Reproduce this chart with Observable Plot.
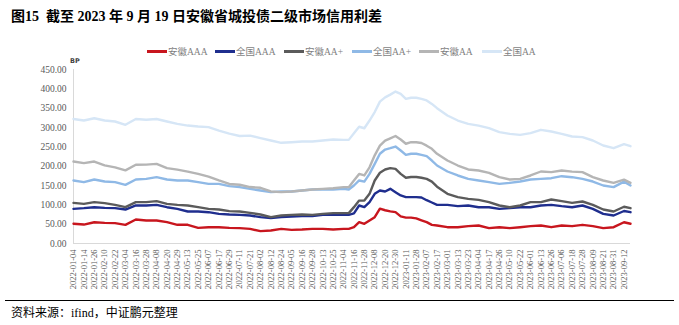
<!DOCTYPE html>
<html><head><meta charset="utf-8">
<script src="https://cdn.jsdelivr.net/npm/d3@7"></script>
<script src="https://cdn.jsdelivr.net/npm/@observablehq/plot@0.6"></script>
<style>
body{margin:0;width:679px;height:325px;position:relative;background:#fff;overflow:hidden;font-family:"Liberation Serif","Noto Sans CJK SC",serif;}
#chart{position:absolute;left:0;top:0;}
#title{position:absolute;left:11px;top:5px;font-size:14px;font-weight:bold;color:#000;white-space:nowrap;font-family:"Liberation Serif","Noto Sans CJK SC",serif;}
.item{position:absolute;top:44px;height:14px;display:flex;align-items:center;font-size:9.5px;color:#7f7f7f;white-space:nowrap;}
.sw{width:20px;height:3px;margin-right:1px;}
#bp{position:absolute;left:70px;top:57px;font:bold 6.5px "DejaVu Sans",sans-serif;color:#404040;}
#rule{position:absolute;left:5px;top:300px;width:669px;height:0;border-top:1.5px solid #000;}
#src{position:absolute;left:11px;top:303px;font-size:12px;color:#000;white-space:nowrap;}
</style></head><body>
<div id="chart"></div>
<div id="title">图15&nbsp; 截至 2023 年 9 月 19 日安徽省城投债二级市场信用利差</div>
<div id="legend"></div>
<div id="bp">BP</div>
<div id="rule"></div>
<div id="src">资料来源：ifind，中证鹏元整理</div>
<script>
const tickLabels = ["2022-01-04","2022-01-14","2022-01-26","2022-02-10","2022-02-22","2022-03-04","2022-03-16","2022-03-28","2022-04-08","2022-04-20","2022-04-29","2022-05-13","2022-05-25","2022-06-07","2022-06-17","2022-06-29","2022-07-11","2022-07-21","2022-08-02","2022-08-12","2022-08-24","2022-09-05","2022-09-16","2022-09-28","2022-10-13","2022-10-25","2022-11-04","2022-11-16","2022-11-28","2022-12-08","2022-12-20","2022-12-30","2023-01-11","2023-01-28","2023-02-07","2023-02-17","2023-03-01","2023-03-13","2023-03-23","2023-04-04","2023-04-17","2023-04-26","2023-05-10","2023-05-22","2023-06-01","2023-06-13","2023-06-26","2023-07-06","2023-07-18","2023-07-28","2023-08-09","2023-08-21","2023-08-31","2023-09-12"];
const tickDays = [0,8,16,24,32,40,48,56,64,72,80,88,96,104,112,120,128,136,144,152,160,168,176,184,192,200,208,216,224,232,240,248,256,264,272,280,288,296,304,312,320,328,336,344,352,360,368,376,384,392,400,408,416,424];
const dayIndex = [0,8,16,24,32,40,48,56,64,72,80,88,96,104,112,120,128,136,144,152,160,168,176,184,192,200,208,212,216,220,224,228,232,236,240,244,248,252,256,260,264,268,272,276,280,288,296,304,312,320,328,336,344,352,360,368,376,384,392,400,408,416,424,429];

const seriesNames = ["安徽AAA","全国AAA","安徽AA+","全国AA+","安徽AA","全国AA"];
const seriesColors = ["#C8161E","#1F2E8E","#5B5B5B","#8FB9E6","#B5B5B5","#D6E6F6"];

const ahAAA = [51,49,55,53.4,52.6,48.3,62,59.5,59.5,55.2,48.3,48.3,40.5,42.2,42.2,40.5,39.7,37.9,31.9,33.6,37.9,35.3,36.2,37.9,37.9,36.2,37.9,
 37.9,
 42.2,55.2,50.9,59.5,68.1,90,86,83,81,70,67,67,65,60,55.2,48.3,46.5,
 42.2,42.2,44.8,46.5,39.7,42.2,39.7,42.2,44.8,46.5,42.2,46.5,44.8,48.3,44.8,39.7,42.2,55,
 51];
const qgAAA = [89.6,91.4,93.9,92.2,91.4,87.9,98.3,98.3,100,93.9,89.6,82.8,82.8,81,76.7,75,74.1,72.4,68.1,65.5,68.1,69.8,70.7,70.7,74.1,75,74.1,
 74.1,
 78,98.3,94,106.9,128.4,137.1,134.5,141.4,132.8,124.2,120,120,120,119,112,106,100,
 100,96.6,98.3,93.9,93.9,89.6,91.4,93.9,93.9,98.3,100,96.6,93.9,98.3,89.6,76.7,72.4,84,
 81];
const ahAAp = [105,102.6,107,104.3,100,94,107,107,109.5,102.6,100,98.3,94,89.6,88,83.6,82.8,79.3,75,68.1,72.4,74.1,75,74.1,76.7,78.5,78.5,
 78.5,
 94,111,111,128.4,163,183,191.4,194.8,193,180,170,172,172,170,167,160,147,
 128.4,119.8,115.5,112.9,106.9,98.3,93.9,98.3,106.9,106.9,113.8,109.5,105.2,108.6,100,87.9,82.8,95,
 91.4];
const qgAAp = [163,158.6,165.5,160.3,158.6,151.7,165.5,167.2,171.5,165.5,163,163,158.6,154.3,154.3,148.3,145.7,141.4,137.1,132.8,134.5,134.5,137.1,139.6,139.6,139.6,141.4,
 139.6,
 150,163,160,180,206,232,243,246.5,250.8,240.5,229.3,232,232,229.3,225.8,214.6,201.7,
 186.2,175.9,167.2,162.9,158.6,154.3,156.9,160.3,165.5,167.2,168.9,174.1,171.5,167.2,160.3,150,145.7,160,
 150];
const ahAA = [212,208,212,202,197,189,203.5,204,206,195,191,186,180,173,163,154,152,146,144,134.5,132.8,134.5,137,139.6,141.4,143,145.7,
 145.7,
 163,180,176,197,228,253,266,272,278,269,258,262,262,260,253,245,232,
 214.6,201.7,191.4,188.8,182.8,171.5,165.5,167.2,175.9,186.2,184.5,188.8,186,184.5,171.5,162.9,156.9,165,
 156.9];
const qgAA = [322,318,324,318,315.5,307,322,320,322,315.5,309.5,305,302.6,301,292,284,278,279,272.4,266.4,260.4,262,263.8,263.8,266.4,269,268,
 268,
 285,302,298,318,340,367,378,385,393,387,374,377,377,374,370,361,350,
 331,318,309.5,305,298.3,287.9,283.6,281,285.3,294,289.6,283.6,276.7,275,266.4,253.4,246.5,257,
 251.7];
const yTicks = [0,50,100,150,200,250,300,350,400,450];

const seriesValues = [ahAAA, qgAAA, ahAAp, qgAAp, ahAA, qgAA];
const rows = [];
seriesValues.forEach((vals, si) => {
  vals.forEach((v, j) => rows.push({series: seriesNames[si], day: dayIndex[j], value: v}));
});

const labelOf = new Map(tickDays.map((d, i) => [d, tickLabels[i]]));

const chart = Plot.plot({
  width: 679, height: 325,
  marginTop: 69, marginBottom: 82, marginLeft: 73, marginRight: 49,
  style: {fontFamily: "'Liberation Serif', serif", fontSize: "9px", color: "#595959", background: "transparent", overflow: "visible"},
  x: {domain: [0, d3.max(dayIndex)]},
  y: {domain: [0, 450]},
  color: {domain: seriesNames, range: seriesColors},
  marks: [
    Plot.axisY({ticks: yTicks, tickFormat: d => d.toFixed(2), tickSize: 0, tickPadding: 7, label: null, fontSize: 9.5}),
    Plot.axisX({ticks: tickDays, tickFormat: d => labelOf.get(d), tickRotate: -90, tickSize: 0, tickPadding: 6, label: null, fontSize: 8.5}),
    Plot.ruleX([0], {stroke: "#d9d9d9", strokeWidth: 1}),
    Plot.ruleY([0], {stroke: "#d9d9d9", strokeWidth: 1}),
    ...seriesNames.map(name => Plot.line(rows.filter(r => r.series === name), {
      x: "day", y: "value", stroke: "series", strokeWidth: 2.4, strokeLinejoin: "round"
    }))
  ]
});
document.getElementById("chart").appendChild(chart);

const legendX = [147, 215, 284, 352, 419, 482];
const legend = document.getElementById("legend");
seriesNames.forEach((name, i) => {
  const it = document.createElement("div");
  it.className = "item";
  it.style.left = legendX[i] + "px";
  it.innerHTML = `<span class="sw" style="background:${seriesColors[i]}"></span><span>${name}</span>`;
  legend.appendChild(it);
});
</script>
</body></html>
